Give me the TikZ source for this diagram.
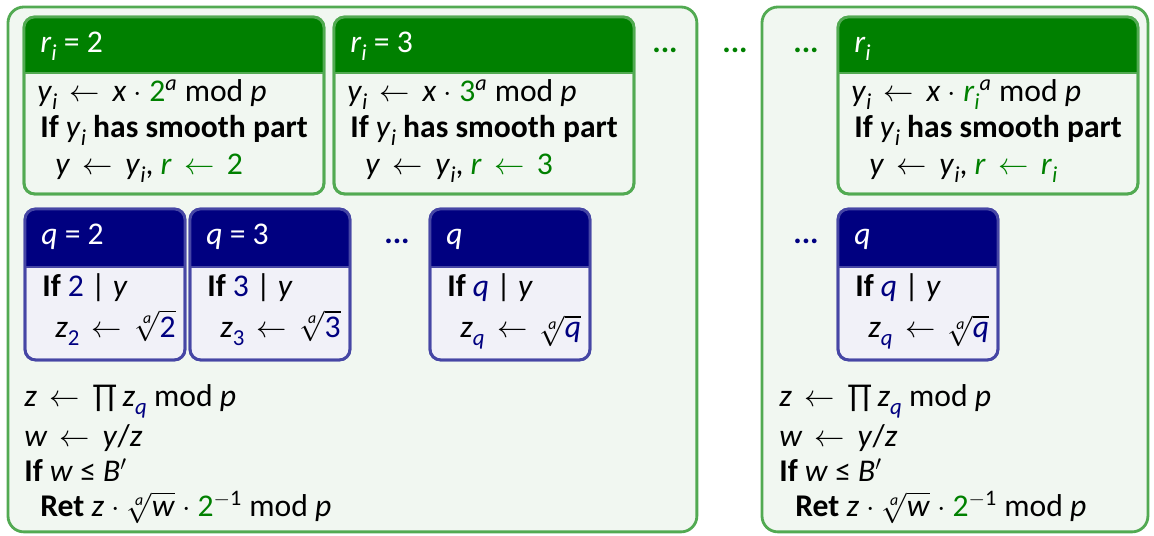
\documentclass[tikz,border=0pt]{standalone}
\usepackage{fontspec}
\setmainfont{Carlito}
\usepackage{amsmath}
\usepackage{xcolor}
\usepackage{tikz}
\usetikzlibrary{positioning}
\definecolor{SmGreen}{RGB}{0,128,0}
\definecolor{SmGreenLine}{RGB}{82,170,82}
\definecolor{SmGreenBg}{RGB}{241,247,241}
\definecolor{SmNavy}{RGB}{0,0,128}
\definecolor{SmNavyLine}{RGB}{70,70,165}
\definecolor{SmNavyBg}{RGB}{241,241,248}
\newcommand{\mv}[1]{\textit{#1}}
\newcommand{\lo}[1]{\raisebox{-4.5pt}{\fontsize{13}{13}\selectfont #1}}
\newcommand{\lar}{\,$\leftarrow$\,}
\newcommand{\nroot}[1]{$\sqrt[\text{\itshape a}]{\text{#1}}$}

\begin{document}
\begin{tikzpicture}[x=0.02cm, y=-0.02cm,
          every node/.style={font=\fontsize{18}{21}\selectfont, inner sep=0pt},
          txt/.style={anchor=base west},
          hdr/.style={txt, text=white},
          frame/.style={draw=SmGreenLine, fill=SmGreenBg, line width=1.6pt,
                        rounded corners=9pt, anchor=north west, outer sep=0pt,
                        minimum height=10.5cm},
          gbox/.style={draw=SmGreenLine, fill=SmGreenBg, line width=1.6pt,
                       rounded corners=6pt, anchor=north west, outer sep=0pt,
                       minimum width=6cm, minimum height=3.54cm},
          qbox/.style={draw=SmNavyLine, fill=SmNavyBg, line width=1.6pt,
                       rounded corners=6pt, anchor=north west, outer sep=0pt,
                       minimum width=3.2cm, minimum height=3.02cm},
          dots/.style={font=\fontsize{18}{21}\selectfont\bfseries}
        ]
        \useasboundingbox (0,0) rectangle (1154,536);

        % Outer frames
        \node[frame, minimum width=13.78cm] (left) at (8,7) {};
        \node[frame, minimum width=7.72cm] (right) at (762,7) {};

        % Green boxes, one per r_i
        \foreach \nm/\x/\hd/\rv in {g1/24/{\mv{r}\lo{\mv{i}} = 2}/{2},
                                    g2/334/{\mv{r}\lo{\mv{i}} = 3}/{3},
                                    g3/838/{\mv{r}\lo{\mv{i}}}/{\mv{r}\lo{\mv{i}}}} {
          \node[gbox] (\nm) at (\x,17) {};
          \begin{scope}
            \clip[rounded corners=6pt] (\nm.south west) rectangle (\nm.north east);
            \fill[SmGreen] (\nm.north west) rectangle ([yshift=-1.12cm]\nm.north east);
          \end{scope}
          \draw[SmGreenLine, line width=0.8pt] ([yshift=-1.12cm]\nm.north west)
                -- ([yshift=-1.12cm]\nm.north east);
          \draw[SmGreenLine, line width=1.6pt, rounded corners=6pt]
                (\nm.south west) rectangle (\nm.north east);
          \node[hdr] (\nm-hd) at (\x+16,53) {\hd};
          \node[txt] (\nm-l1) at (\x+13,102)
                {\mv{y}\lo{\mv{i}} \lar{} \mv{x} $\cdot$
                 \textcolor{SmGreen}{\rv}\textsuperscript{\mv{a}} mod \mv{p}};
          \node[txt] (\nm-l2) at (\x+16,138)
                {\textbf{If} \mv{y}\lo{\mv{i}} \textbf{has smooth part}};
          \node[txt] (\nm-l3) at (\x+31,175)
                {\mv{y} \lar{} \mv{y}\lo{\mv{i}}, \textcolor{SmGreen}{\mv{r} \lar{} \rv}};
        }

        % Blue boxes, one per prime q
        \foreach \nm/\x/\hd/\qv in {q1/25/{\mv{q} = 2}/{2},
                                    q2/190/{\mv{q} = 3}/{3},
                                    q3/430/{\mv{q}}/{\mv{q}},
                                    q4/838/{\mv{q}}/{\mv{q}}} {
          \node[qbox] (\nm) at (\x,209) {};
          \begin{scope}
            \clip[rounded corners=6pt] (\nm.south west) rectangle (\nm.north east);
            \fill[SmNavy] (\nm.north west) rectangle ([yshift=-1.16cm]\nm.north east);
          \end{scope}
          \draw[SmNavyLine, line width=0.8pt] ([yshift=-1.16cm]\nm.north west)
                -- ([yshift=-1.16cm]\nm.north east);
          \draw[SmNavyLine, line width=1.6pt, rounded corners=6pt]
                (\nm.south west) rectangle (\nm.north east);
          \node[hdr] (\nm-hd) at (\x+16,245) {\hd};
          \node[txt] (\nm-l1) at (\x+17,297)
                {\textbf{If} \textcolor{SmNavy}{\qv} | \mv{y}};
          \node[txt] (\nm-l2) at (\x+30,338)
                {\mv{z}\lo{\textcolor{SmNavy}{\qv}} \lar{}
                 \nroot{\textcolor{SmNavy}{\qv}}};
        }

        % Closing lines
        \foreach \nm/\x in {b1/24, b2/779} {
          \node[txt] (\nm-l1) at (\x,407)
                {\mv{z} \lar{} ∏\,\mv{z}\lo{\textcolor{SmNavy}{\mv{q}}} mod \mv{p}};
          \node[txt] (\nm-l2) at (\x,447) {\mv{w} \lar{} \mv{y}/\mv{z}};
          \node[txt] (\nm-l3) at (\x,482) {\textbf{If} \mv{w} ≤ \mv{B}$'$};
          \node[txt] (\nm-l4) at (\x+16,517)
                {\textbf{Ret} \mv{z} $\cdot$ \nroot{\mv{w}} $\cdot$
                 \textcolor{SmGreen}{2}\textsuperscript{$-$1} mod \mv{p}};
        }

        % Ellipses
        \foreach \nm/\x in {gd1/665, gd2/735, gd3/806} {
          \node[dots, text=SmGreen] (\nm) at (\x,50) {...};
        }
        \foreach \nm/\x in {qd1/397, qd2/806} {
          \node[dots, text=SmNavy] (\nm) at (\x,241) {...};
        }
      \end{tikzpicture}
\end{document}
